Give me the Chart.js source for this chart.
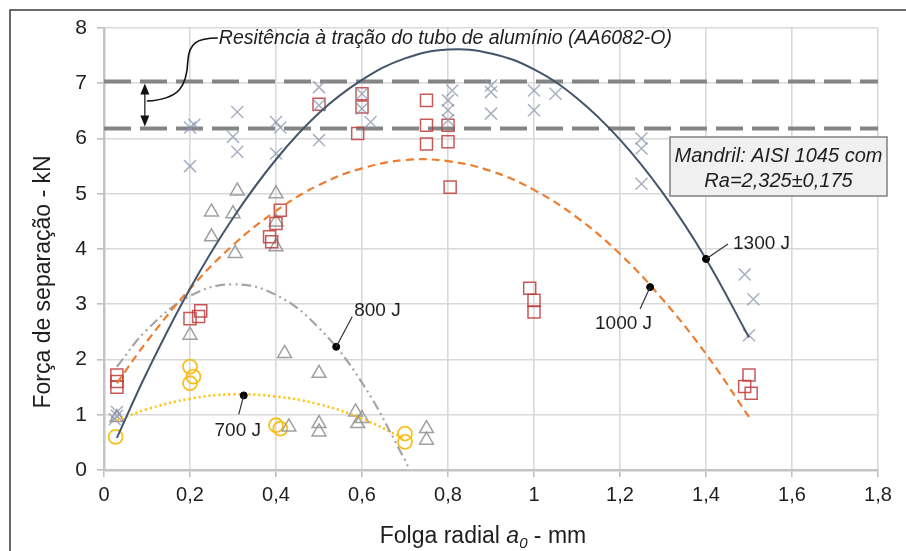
<!DOCTYPE html>
<html><head><meta charset="utf-8">
<script src="https://cdn.jsdelivr.net/npm/chart.js@4.4.0/dist/chart.umd.min.js"></script>
<style>html,body{margin:0;padding:0;background:#fff;overflow:hidden}#wrap{position:absolute;left:0;top:0;width:906px;height:551px}</style>
</head><body><div id="wrap"><canvas id="c" width="906" height="551"></canvas></div>
<script>
// ---------- DATA ----------
const yTitle = 'Força de separação - kN';
const xTitleParts = ['Folga radial ', 'a', '0', ' - mm'];
const refTitle = 'Resitência à tração do tubo de alumínio (AA6082-O)';
const boxLines = ['Mandril: AISI 1045 com', 'Ra=2,325±0,175'];
const seriesNames = ['1300 J', '1000 J', '800 J', '700 J'];

const refLow = 6.18;
const refHigh = 7.03;

// measured points
const x1300 = [0.03,0.03,0.025,0.2,0.21,0.2,0.31,0.3,0.31,0.4,0.41,0.4,0.5,0.5,0.5,0.6,0.6,0.62,0.81,0.8,0.8,0.8,0.9,0.9,0.9,1.0,1.05,1.0,1.25,1.25,1.25,1.49,1.51,1.5];
const y1300 = [1.05,0.98,0.92,6.2,6.25,5.5,6.48,6.03,5.76,6.3,6.2,5.73,6.93,6.6,5.97,6.81,6.54,6.3,6.87,6.69,6.51,6.33,6.96,6.84,6.45,6.87,6.81,6.51,6.0,5.82,5.18,3.54,3.09,2.44];

const x1000 = [0.03,0.03,0.03,0.2,0.22,0.225,0.41,0.4,0.385,0.39,0.5,0.6,0.6,0.59,0.75,0.75,0.75,0.8,0.8,0.805,0.99,1.0,1.0,1.5,1.49,1.505];
const y1000 = [1.72,1.6,1.5,2.74,2.78,2.88,4.7,4.46,4.22,4.13,6.62,6.81,6.57,6.09,6.69,6.24,5.9,6.24,5.94,5.12,3.29,3.07,2.86,1.72,1.51,1.39];

const x800 = [0.03,0.2,0.25,0.25,0.3,0.31,0.305,0.4,0.4,0.4,0.42,0.5,0.43,0.5,0.5,0.585,0.6,0.59,0.75,0.75];
const y800 = [0.95,2.44,4.67,4.22,4.64,5.05,3.92,5.0,4.49,4.04,2.11,1.75,0.78,0.84,0.69,1.05,0.93,0.84,0.75,0.54];

const x700 = [0.027,0.2,0.208,0.2,0.4,0.41,0.7,0.7];
const y700 = [0.6,1.87,1.69,1.57,0.81,0.75,0.66,0.51];

// trend curves
const curveX = [0.03,0.1,0.2,0.3,0.4,0.5,0.6,0.7,0.8,0.9,1.0,1.1,1.2,1.3,1.4,1.5];
const curve1300 = [0.58,1.77,3.28,4.56,5.62,6.46,7.06,7.45,7.61,7.54,7.25,6.73,5.98,5.01,3.82,2.40];
const curve1000 = [1.57,2.33,3.28,4.07,4.69,5.16,5.46,5.61,5.59,5.41,5.07,4.57,3.91,3.08,2.10,0.96];
const curve800X = [0.03,0.1,0.2,0.3,0.4,0.5,0.6,0.7,0.71];
const curve800 = [1.87,2.54,3.15,3.36,3.17,2.57,1.58,0.18,0.0];
const curve700X = [0.03,0.1,0.2,0.3,0.4,0.5,0.6,0.7];
const curve700 = [0.90,1.10,1.29,1.37,1.33,1.19,0.93,0.56];

// label anchor dots on curves
const labelX = [1.4, 1.27, 0.54, 0.325];
const labelY = [3.82, 3.31, 2.23, 1.35];

const xMin = 0, xMax = 1.8, xStep = 0.2;
const yMin = 0, yMax = 8, yStep = 1;

// ---------- BUILD ----------
const FONT = '"Liberation Sans", Arial, sans-serif';
const pts = (xs, ys) => xs.map((v, i) => ({x: v, y: ys[i]}));

const C1300 = '#44546A', C1000 = '#ED7D31', C800 = '#A5A5A5', C700 = '#FFC000';

const datasets = [
  {label: seriesNames[0]+' fit', data: pts(curveX, curve1300), showLine: true, borderColor: C1300, borderWidth: 2, pointRadius: 0, tension: 0.4, order: 0},
  {label: seriesNames[1]+' fit', data: pts(curveX, curve1000), showLine: true, borderColor: C1000, borderWidth: 2.2, borderDash: [8,5], pointRadius: 0, tension: 0.4, order: 0},
  {label: seriesNames[2]+' fit', data: pts(curve800X, curve800), showLine: true, borderColor: C800, borderWidth: 2.2, borderDash: [10,4,2,4,2,4], pointRadius: 0, tension: 0.4, order: 0},
  {label: seriesNames[3]+' fit', data: pts(curve700X, curve700), showLine: true, borderColor: C700, borderWidth: 2.5, borderDash: [2,3], pointRadius: 0, tension: 0.4, order: 0},
  {label: 'labels', data: pts(labelX, labelY), pointRadius: 3.5, pointBackgroundColor: '#000', pointBorderColor: '#000', order: -1},
  {label: seriesNames[0], data: pts(x1300, y1300), pointStyle: 'crossRot', pointRadius: 8.5, borderColor: 'rgba(140,150,172,0.75)', pointBorderWidth: 1.5, backgroundColor: 'transparent', order: 1},
  {label: seriesNames[1], data: pts(x1000, y1000), pointStyle: 'rect', pointRadius: 8.5, borderColor: 'rgba(192,60,60,0.85)', pointBorderWidth: 1.5, backgroundColor: 'transparent', order: 1},
  {label: seriesNames[2], data: pts(x800, y800), pointStyle: 'triangle', pointRadius: 8, borderColor: 'rgba(150,150,150,0.9)', pointBorderWidth: 1.5, backgroundColor: 'transparent', order: 1},
  {label: seriesNames[3], data: pts(x700, y700), pointStyle: 'circle', pointRadius: 7, borderColor: 'rgba(245,190,20,0.95)', pointBorderWidth: 1.8, backgroundColor: 'transparent', order: 1},
  {label: 'ref high', data: [{x: xMin, y: refHigh}, {x: xMax, y: refHigh}], showLine: true, borderColor: '#858585', borderWidth: 4, borderDash: [27,9], pointRadius: 0, order: 5},
  {label: 'ref low', data: [{x: xMin, y: refLow}, {x: xMax, y: refLow}], showLine: true, borderColor: '#858585', borderWidth: 4, borderDash: [27,9], pointRadius: 0, order: 5}
];

const fmt = v => (Math.round(v * 10) / 10).toString().replace('.', ',');

const deco = {
  id: 'deco',
  afterDraw(chart) {
    const {ctx, chartArea: ca, scales: {x, y}} = chart;
    ctx.save();
    // figure frame
    ctx.strokeStyle = '#3a3a3a'; ctx.lineWidth = 1.5;
    ctx.beginPath(); ctx.moveTo(10, 551); ctx.lineTo(10, 10); ctx.lineTo(906, 10); ctx.stroke();

    ctx.fillStyle = '#1e1e1e';
    // y title
    ctx.font = '23px ' + FONT;
    ctx.save(); ctx.translate(44, 282); ctx.rotate(-Math.PI / 2);
    ctx.textAlign = 'center'; ctx.textBaseline = 'middle'; ctx.fillText(yTitle, 0, 0); ctx.restore();

    // x title
    const fN = '23px ' + FONT, fI = 'italic 23px ' + FONT, fS = 'italic 15px ' + FONT;
    ctx.font = fN; const w0 = ctx.measureText(xTitleParts[0]).width, w3 = ctx.measureText(xTitleParts[3]).width;
    ctx.font = fI; const w1 = ctx.measureText(xTitleParts[1]).width;
    ctx.font = fS; const w2 = ctx.measureText(xTitleParts[2]).width;
    let sx = (ca.left + ca.right) / 2 - (w0 + w1 + w2 + w3) / 2 - 8;
    const by = 543;
    ctx.textAlign = 'left'; ctx.textBaseline = 'alphabetic';
    ctx.font = fN; ctx.fillText(xTitleParts[0], sx, by); sx += w0;
    ctx.font = fI; ctx.fillText(xTitleParts[1], sx, by); sx += w1;
    ctx.font = fS; ctx.fillText(xTitleParts[2], sx, by + 5); sx += w2;
    ctx.font = fN; ctx.fillText(xTitleParts[3], sx, by);

    // double arrow between reference lines
    const ax = x.getPixelForValue(0.095);
    const ya = y.getPixelForValue(refHigh) + 2, yb = y.getPixelForValue(refLow) - 2;
    ctx.strokeStyle = '#111'; ctx.fillStyle = '#111'; ctx.lineWidth = 1.2;
    ctx.beginPath(); ctx.moveTo(ax, ya + 8); ctx.lineTo(ax, yb - 8); ctx.stroke();
    ctx.beginPath(); ctx.moveTo(ax, ya); ctx.lineTo(ax - 4.5, ya + 11); ctx.lineTo(ax + 4.5, ya + 11); ctx.closePath(); ctx.fill();
    ctx.beginPath(); ctx.moveTo(ax, yb); ctx.lineTo(ax - 4.5, yb - 11); ctx.lineTo(ax + 4.5, yb - 11); ctx.closePath(); ctx.fill();
    // connector curve
    const my = (ya + yb) / 2 - 4;
    ctx.lineWidth = 1.6;
    ctx.beginPath(); ctx.moveTo(ax + 2, my);
    ctx.bezierCurveTo(ax + 35, my - 2, ax + 42, my - 15, ax + 43, my - 40);
    ctx.bezierCurveTo(ax + 44, my - 58, ax + 52, my - 63, ax + 73, my - 63);
    ctx.stroke();

    // reference title
    ctx.fillStyle = '#1e1e1e';
    ctx.font = 'italic 19.5px ' + FONT; ctx.textAlign = 'left'; ctx.textBaseline = 'middle';
    ctx.fillText(refTitle, ax + 74, my - 62);

    // info box
    const bx0 = 670, by0 = 137, bw = 217, bh = 59;
    ctx.fillStyle = '#F0F0F0'; ctx.fillRect(bx0, by0, bw, bh);
    ctx.strokeStyle = '#808080'; ctx.lineWidth = 1.5; ctx.strokeRect(bx0, by0, bw, bh);
    ctx.fillStyle = '#1e1e1e'; ctx.font = 'italic 20px ' + FONT; ctx.textAlign = 'center';
    ctx.fillText(boxLines[0], bx0 + bw / 2, by0 + 19);
    ctx.fillText(boxLines[1], bx0 + bw / 2, by0 + 44);

    // series labels with leaders
    const offs = [
      {lx: 22, ly: -15, tx: 27, ty: -15, align: 'left'},
      {lx: -10, ly: 22, tx: 2, ty: 37, align: 'right'},
      {lx: 16, ly: -30, tx: 18, ty: -36, align: 'left'},
      {lx: -5, ly: 19, tx: -6, ty: 35, align: 'center'}
    ];
    ctx.font = '19px ' + FONT; ctx.lineWidth = 1.2; ctx.strokeStyle = '#333';
    labelX.forEach((lv, i) => {
      const px = x.getPixelForValue(lv), py = y.getPixelForValue(labelY[i]);
      const o = offs[i];
      ctx.beginPath(); ctx.moveTo(px, py); ctx.lineTo(px + o.lx, py + o.ly); ctx.stroke();
      ctx.textAlign = o.align; ctx.textBaseline = 'middle';
      ctx.fillText(seriesNames[i], px + o.tx, py + o.ty);
    });
    ctx.restore();
  }
};

new Chart(document.getElementById('c'), {
  type: 'scatter',
  data: {datasets},
  options: {
    responsive: false, animation: false, events: [],
    layout: {padding: {top: 28, right: 28, left: 0, bottom: 0}},
    plugins: {legend: {display: false}, tooltip: {enabled: false}},
    scales: {
      x: {
        type: 'linear', min: xMin, max: xMax,
        ticks: {stepSize: xStep, callback: fmt, color: '#1e1e1e', font: {family: FONT, size: 20}, padding: 6, maxRotation: 0},
        grid: {color: '#D9D9D9', lineWidth: 1.6, tickLength: 7, tickColor: '#BFBFBF'},
        border: {color: '#C4C4C4', width: 2.5},
        afterFit: s => { s.height = 81; }
      },
      y: {
        type: 'linear', min: yMin, max: yMax,
        ticks: {stepSize: yStep, callback: fmt, color: '#1e1e1e', font: {family: FONT, size: 21}, padding: 10},
        grid: {color: '#D9D9D9', lineWidth: 1.6, tickLength: 7, tickColor: '#BFBFBF'},
        border: {color: '#C4C4C4', width: 2.5},
        afterFit: s => { s.width = 104; }
      }
    }
  },
  plugins: [deco]
});
</script>
</body></html>
